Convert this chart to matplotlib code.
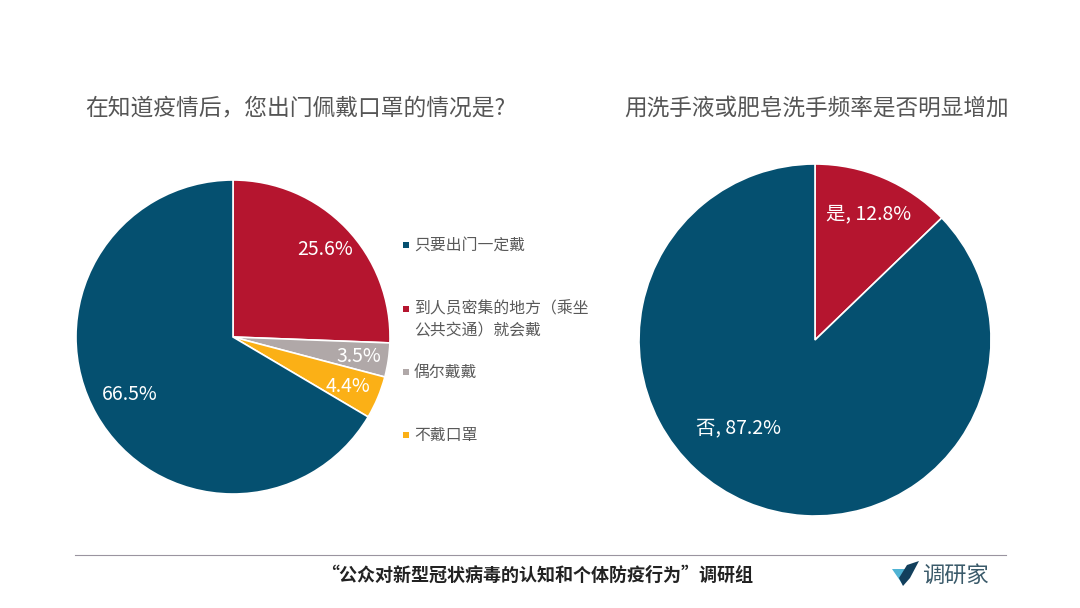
import numpy as np
import matplotlib
matplotlib.use('Agg')
import matplotlib.pyplot as plt
from matplotlib.patches import Polygon, Rectangle

plt.rcParams['font.family'] = ['Noto Sans CJK SC', 'DejaVu Sans']

# left pie, in legend order
mask_labels = ['只要出门一定戴', '到人员密集的地方（乘坐\n公共交通）就会戴', '偶尔戴戴', '不戴口罩']
mask_values = [66.5, 25.6, 3.5, 4.4]
mask_text = ['66.5%', '25.6%', '3.5%', '4.4%']
mask_colors = ['#055070', '#b5152f', '#b0a8a8', '#fbb016']

# right pie
wash_values = [12.8, 87.2]
wash_text = ['是, 12.8%', '否, 87.2%']
wash_colors = ['#b5152f', '#055070']

W, H = 1080, 608
fig = plt.figure(figsize=(W / 100, H / 100), dpi=100, facecolor='white')


def px(x, y):
    # pixels from the top left of the image -> figure fraction
    return x / W, 1 - y / H


def pie_axes(cx, cy, r):
    return fig.add_axes([(cx - r) / W, 1 - (cy + r) / H, 2 * r / W, 2 * r / H])


def draw_pie(ax, values, colors):
    ax.pie(values, colors=colors, startangle=90, counterclock=False, radius=1,
           wedgeprops={'edgecolor': 'white', 'linewidth': 1.2})
    ax.set_xlim(-1, 1)
    ax.set_ylim(-1, 1)
    ax.set_aspect('equal')


# the big blue slice comes last going clockwise from 12 o'clock
ax1 = pie_axes(233, 337, 157)
draw_pie(ax1, np.roll(mask_values, -1), np.roll(mask_colors, -1))

ax2 = pie_axes(815, 340, 176)
draw_pie(ax2, wash_values, wash_colors)

# titles
fig.text(*px(295.5, 108), '在知道疫情后，您出门佩戴口罩的情况是?', fontsize=16.4,
         color='#555555', ha='center', va='center')
fig.text(*px(816.5, 108), '用洗手液或肥皂洗手频率是否明显增加', fontsize=16.3,
         color='#555555', ha='center', va='center')

# value labels
mask_text_pos = [(130, 394), (325, 250), (359, 356), (348, 386)]
for pos, t in zip(mask_text_pos, mask_text):
    fig.text(*px(*pos), t, fontsize=14, color='white', ha='center', va='center')

wash_text_pos = [(869, 214), (739, 428)]
for pos, t in zip(wash_text_pos, wash_text):
    fig.text(*px(*pos), t, fontsize=14, color='white', ha='center', va='center')

# legend
marker_y = [245, 309, 372, 435]
legend_y = [245, 320, 372, 435]
for my, ly, lab, c in zip(marker_y, legend_y, mask_labels, mask_colors):
    x0, y0 = px(403, my + 3)
    fig.add_artist(Rectangle((x0, y0), 6 / W, 6 / H, transform=fig.transFigure,
                             facecolor=c, edgecolor='none'))
    fig.text(*px(414, ly), lab, fontsize=11.4, color='#595959', ha='left', va='center',
             linespacing=1.35)

# footer
fig.add_artist(plt.Line2D([75 / W, 1006 / W], [1 - 555 / H, 1 - 555 / H], color='#9a94a0', lw=0.8))
fig.text(*px(537, 575), '“公众对新型冠状病毒的认知和个体防疫行为”调研组', fontsize=13,
         color='#222222', ha='center', va='center', fontweight='bold')

# logo mark
fig.add_artist(Polygon([px(892, 569), px(905, 569), px(903, 585)], closed=True,
                       transform=fig.transFigure, facecolor='#4fb3d4', edgecolor='none'))
fig.add_artist(Polygon([px(919, 561), px(907, 565), px(899, 578), px(903, 586), px(910, 578)],
                       closed=True, transform=fig.transFigure, facecolor='#123f5c', edgecolor='none'))
fig.text(*px(955, 575), '调研家', fontsize=16, color='#3a5a6a', ha='center', va='center')

fig.savefig('out.png', dpi=100)
